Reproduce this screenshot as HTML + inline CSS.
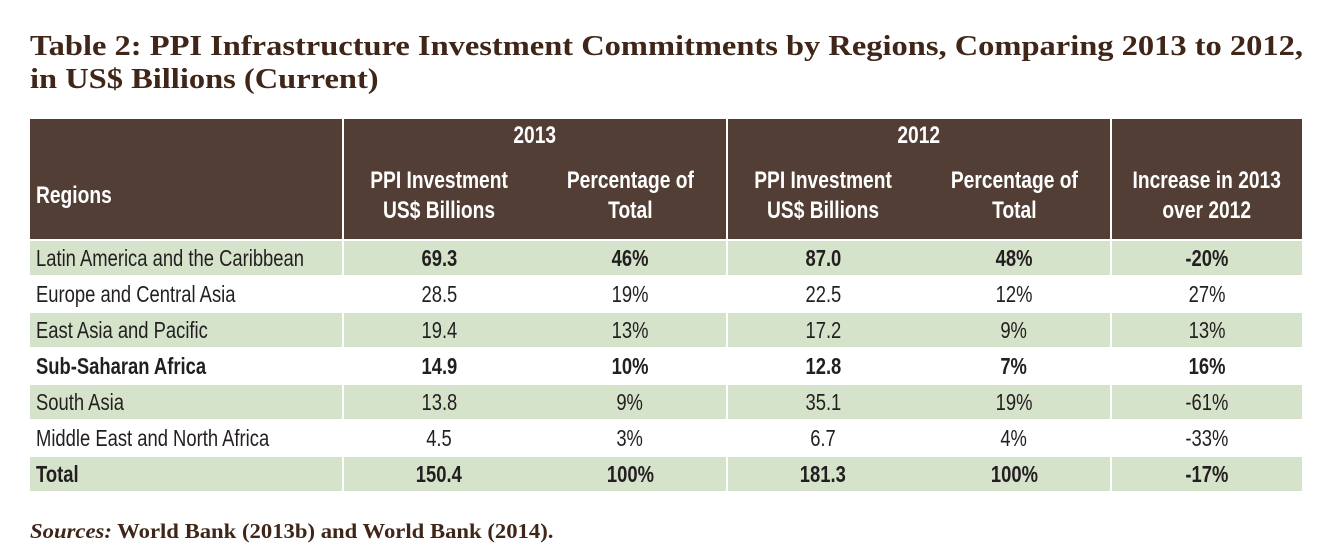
<!DOCTYPE html>
<html><head><meta charset="utf-8"><style>
body{margin:0;width:1322px;height:552px;background:#fff;position:relative;overflow:hidden;font-family:"Liberation Sans",sans-serif;}
.title{position:absolute;left:30px;top:30px;font-family:"Liberation Serif",serif;font-weight:bold;font-size:28px;line-height:33px;color:#3f2619;transform:scaleX(1.16);transform-origin:left top;white-space:nowrap;}
.src{position:absolute;left:30px;top:519px;font-family:"Liberation Serif",serif;font-size:21px;color:#3f2619;font-weight:bold;transform:scaleX(1.08);transform-origin:left top;white-space:nowrap}
.src i{font-style:italic}
.c{position:absolute;box-sizing:border-box;display:flex;align-items:center;justify-content:center;font-size:23px;color:#231f20;white-space:nowrap}
.c span{display:inline-block;transform:scaleX(0.8);}
.h{background:#523e34;color:#fff;font-weight:bold;text-align:center;line-height:30px;font-size:24px}
.l{justify-content:flex-start;padding-left:6px}
.l span{transform-origin:left center}
.g{background:#d5e3cb}
.b{font-weight:bold}
</style></head><body>
<div class="title">Table 2: PPI Infrastructure Investment Commitments by Regions, Comparing 2013 to 2012,<br>in US$ Billions (Current)</div>
<div id="t"></div>
<div class="src"><i>Sources:</i> World Bank (2013b) and World Bank (2014).</div>
<script>
const regions=["Latin America and the Caribbean","Europe and Central Asia","East Asia and Pacific","Sub-Saharan Africa","South Asia","Middle East and North Africa","Total"];
const inv2013=["69.3","28.5","19.4","14.9","13.8","4.5","150.4"];
const pct2013=["46%","19%","13%","10%","9%","3%","100%"];
const inv2012=["87.0","22.5","17.2","12.8","35.1","6.7","181.3"];
const pct2012=["48%","12%","9%","7%","19%","4%","100%"];
const incr=["-20%","27%","13%","16%","-61%","-33%","-17%"];
const boldRows=[true,false,false,true,false,false,true];
const boldLabels=[false,false,false,true,false,false,true];
const greenRows=[true,false,true,false,true,false,true];
const t=document.getElementById('t');
function cell(x,y,w,h,html,cls){const d=document.createElement('div');d.className='c '+cls;d.style.left=x+'px';d.style.top=y+'px';d.style.width=w+'px';d.style.height=h+'px';d.innerHTML='<span>'+html+'</span>';t.appendChild(d);return d;}
let e;
e=cell(30,119,312,120,'','h');

e=cell(30,153,312,86,'Regions','h l');

e=cell(344,119,382,34,'2013','h');

e=cell(728,119,382,34,'2012','h');

const sub=['PPI Investment<br>US$ Billions','Percentage of<br>Total','PPI Investment<br>US$ Billions','Percentage of<br>Total'];
const sx=[344,534,728,918];
for(let i=0;i<4;i++){e=cell(sx[i],153,i%2==0?190:192,86,sub[i],'h');
}
e=cell(1112,119,190,120,'','h');

e=cell(1112,153,190,86,'Increase in 2013<br>over 2012','h');

for(let r=0;r<regions.length;r++){
 const y=241+r*36, h=34;
 const g=greenRows[r]?'g ':'';
 const cls=g+(boldRows[r]?'b':'');
 const vals=[inv2013[r],pct2013[r],inv2012[r],pct2012[r],incr[r]];
 e=cell(30,y,312,h,regions[r],g+(boldLabels[r]?'b':'')+' l');
 
 const xs=[344,534,728,918,1112],ws=[190,192,190,192,190];
 for(let j=0;j<5;j++){e=cell(xs[j],y,ws[j],h,vals[j],cls);
 }
}
</script>
</body></html>
